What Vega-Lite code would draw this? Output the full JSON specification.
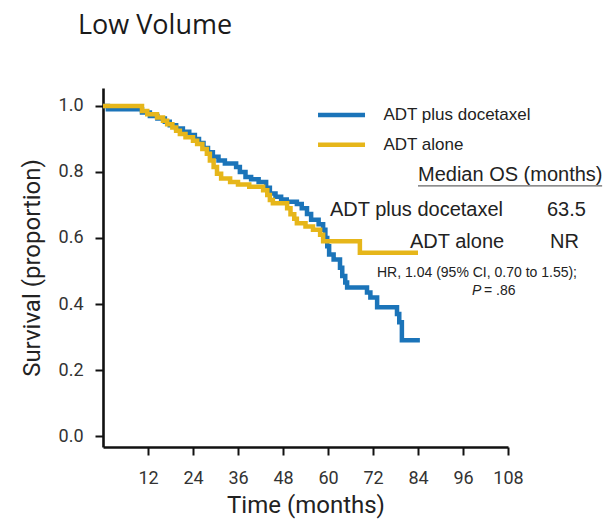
{
  "$schema": "https://vega.github.io/schema/vega-lite/v6.json",
  "width": 405,
  "height": 359,
  "autosize": "none",
  "padding": {"left": 103, "top": 88, "right": 104, "bottom": 79},
  "background": "white",
  "title": {
    "text": "Low Volume",
    "anchor": "start",
    "frame": "group",
    "dx": -25,
    "offset": 27,
    "baseline": "alphabetic",
    "font": "Open Sans",
    "fontSize": 27,
    "fontWeight": "normal",
    "color": "#1a1a1a"
  },
  "config": {
    "view": {"stroke": null},
    "axis": {
      "grid": false,
      "domainColor": "#111",
      "domainWidth": 2.6,
      "tickColor": "#111",
      "tickWidth": 2,
      "tickSize": 8,
      "labelFont": "Roboto",
      "labelFontSize": 18,
      "labelColor": "#333",
      "labelFlush": false,
      "labelOverlap": false,
      "titleFont": "Roboto",
      "titleFontSize": 24,
      "titleFontWeight": "normal",
      "titleColor": "#222"
    },
    "text": {"font": "Liberation Sans", "color": "#222"}
  },
  "datasets": {
    "km": [
      {"arm": "ADT plus docetaxel", "month": 0, "surv": 1.0},
      {"arm": "ADT plus docetaxel", "month": 1.3, "surv": 0.99},
      {"arm": "ADT plus docetaxel", "month": 10.4, "surv": 0.98},
      {"arm": "ADT plus docetaxel", "month": 12.5, "surv": 0.97},
      {"arm": "ADT plus docetaxel", "month": 14.5, "surv": 0.962},
      {"arm": "ADT plus docetaxel", "month": 16.5, "surv": 0.952},
      {"arm": "ADT plus docetaxel", "month": 17.8, "surv": 0.942},
      {"arm": "ADT plus docetaxel", "month": 19.5, "surv": 0.932},
      {"arm": "ADT plus docetaxel", "month": 21.3, "surv": 0.922},
      {"arm": "ADT plus docetaxel", "month": 23, "surv": 0.912},
      {"arm": "ADT plus docetaxel", "month": 24.5, "surv": 0.9},
      {"arm": "ADT plus docetaxel", "month": 25.6, "surv": 0.888},
      {"arm": "ADT plus docetaxel", "month": 26.8, "surv": 0.873},
      {"arm": "ADT plus docetaxel", "month": 28, "surv": 0.86},
      {"arm": "ADT plus docetaxel", "month": 29.3, "surv": 0.846},
      {"arm": "ADT plus docetaxel", "month": 30.8, "surv": 0.835},
      {"arm": "ADT plus docetaxel", "month": 32.5, "surv": 0.826},
      {"arm": "ADT plus docetaxel", "month": 35.5, "surv": 0.815},
      {"arm": "ADT plus docetaxel", "month": 36.5, "surv": 0.8},
      {"arm": "ADT plus docetaxel", "month": 38, "surv": 0.785},
      {"arm": "ADT plus docetaxel", "month": 39.5, "surv": 0.778},
      {"arm": "ADT plus docetaxel", "month": 41.5, "surv": 0.77},
      {"arm": "ADT plus docetaxel", "month": 43.5, "surv": 0.752},
      {"arm": "ADT plus docetaxel", "month": 44.5, "surv": 0.735},
      {"arm": "ADT plus docetaxel", "month": 46, "surv": 0.725},
      {"arm": "ADT plus docetaxel", "month": 47.5, "surv": 0.717},
      {"arm": "ADT plus docetaxel", "month": 49, "surv": 0.71},
      {"arm": "ADT plus docetaxel", "month": 51.7, "surv": 0.703},
      {"arm": "ADT plus docetaxel", "month": 53, "surv": 0.69},
      {"arm": "ADT plus docetaxel", "month": 54.4, "surv": 0.673},
      {"arm": "ADT plus docetaxel", "month": 55.5, "surv": 0.655},
      {"arm": "ADT plus docetaxel", "month": 57.5, "surv": 0.642},
      {"arm": "ADT plus docetaxel", "month": 58.7, "surv": 0.625},
      {"arm": "ADT plus docetaxel", "month": 59.3, "surv": 0.6},
      {"arm": "ADT plus docetaxel", "month": 59.8, "surv": 0.575},
      {"arm": "ADT plus docetaxel", "month": 60.3, "surv": 0.55},
      {"arm": "ADT plus docetaxel", "month": 61.5, "surv": 0.535},
      {"arm": "ADT plus docetaxel", "month": 63.2, "surv": 0.51},
      {"arm": "ADT plus docetaxel", "month": 63.8, "surv": 0.485},
      {"arm": "ADT plus docetaxel", "month": 64.6, "surv": 0.465},
      {"arm": "ADT plus docetaxel", "month": 65.1, "surv": 0.45},
      {"arm": "ADT plus docetaxel", "month": 70.4, "surv": 0.435},
      {"arm": "ADT plus docetaxel", "month": 71.3, "surv": 0.42},
      {"arm": "ADT plus docetaxel", "month": 73.1, "surv": 0.39},
      {"arm": "ADT plus docetaxel", "month": 78.4, "surv": 0.37},
      {"arm": "ADT plus docetaxel", "month": 79, "surv": 0.345},
      {"arm": "ADT plus docetaxel", "month": 79.7, "surv": 0.29},
      {"arm": "ADT plus docetaxel", "month": 84.5, "surv": 0.29},
      {"arm": "ADT alone", "month": 0, "surv": 1.0},
      {"arm": "ADT alone", "month": 10.4, "surv": 0.985},
      {"arm": "ADT alone", "month": 11.8, "surv": 0.975},
      {"arm": "ADT alone", "month": 14.4, "surv": 0.965},
      {"arm": "ADT alone", "month": 16, "surv": 0.955},
      {"arm": "ADT alone", "month": 17.1, "surv": 0.945},
      {"arm": "ADT alone", "month": 18.5, "surv": 0.935},
      {"arm": "ADT alone", "month": 19.5, "surv": 0.925},
      {"arm": "ADT alone", "month": 20.5, "surv": 0.915},
      {"arm": "ADT alone", "month": 22, "surv": 0.905},
      {"arm": "ADT alone", "month": 24, "surv": 0.895},
      {"arm": "ADT alone", "month": 25.1, "surv": 0.885},
      {"arm": "ADT alone", "month": 26.5, "surv": 0.87},
      {"arm": "ADT alone", "month": 27.7, "surv": 0.855},
      {"arm": "ADT alone", "month": 28.5, "surv": 0.835},
      {"arm": "ADT alone", "month": 29.5, "surv": 0.815},
      {"arm": "ADT alone", "month": 30.4, "surv": 0.795},
      {"arm": "ADT alone", "month": 31.5, "surv": 0.78},
      {"arm": "ADT alone", "month": 33.9, "surv": 0.77},
      {"arm": "ADT alone", "month": 36, "surv": 0.762},
      {"arm": "ADT alone", "month": 39, "surv": 0.755},
      {"arm": "ADT alone", "month": 42.7, "surv": 0.745},
      {"arm": "ADT alone", "month": 43.8, "surv": 0.73},
      {"arm": "ADT alone", "month": 44.5, "surv": 0.715},
      {"arm": "ADT alone", "month": 45.3, "surv": 0.705},
      {"arm": "ADT alone", "month": 49.1, "surv": 0.69},
      {"arm": "ADT alone", "month": 50, "surv": 0.672},
      {"arm": "ADT alone", "month": 51, "surv": 0.658},
      {"arm": "ADT alone", "month": 51.7, "surv": 0.645},
      {"arm": "ADT alone", "month": 54, "surv": 0.635},
      {"arm": "ADT alone", "month": 56, "surv": 0.625},
      {"arm": "ADT alone", "month": 57.9, "surv": 0.61},
      {"arm": "ADT alone", "month": 58.7, "surv": 0.59},
      {"arm": "ADT alone", "month": 68.5, "surv": 0.555},
      {"arm": "ADT alone", "month": 84, "surv": 0.555}
    ]
  },
  "layer": [
    {
      "data": {"name": "km"},
      "mark": {"type": "line", "interpolate": "step-after", "strokeWidth": 4.5, "strokeCap": "butt"},
      "encoding": {
        "x": {
          "field": "month",
          "type": "quantitative",
          "scale": {"domain": [0, 108], "nice": false, "zero": false},
          "axis": {
            "values": [12, 24, 36, 48, 60, 72, 84, 96, 108],
            "title": "Time (months)",
            "labelPadding": 14,
            "titlePadding": 6
          }
        },
        "y": {
          "field": "surv",
          "type": "quantitative",
          "scale": {"domain": [-0.0333, 1.0545], "nice": false, "zero": false},
          "axis": {
            "values": [0, 0.2, 0.4, 0.6, 0.8, 1.0],
            "format": ".1f",
            "title": "Survival (proportion)",
            "labelPadding": 12,
            "titlePadding": 14
          }
        },
        "color": {
          "field": "arm",
          "type": "nominal",
          "scale": {
            "domain": ["ADT plus docetaxel", "ADT alone"],
            "range": ["#1b74b9", "#e6b61a"]
          },
          "legend": {
            "title": null,
            "orient": "none",
            "legendX": 212.4,
            "legendY": 18.5,
            "padding": 0,
            "symbolType": "M-1,0H7",
            "symbolSize": 138,
            "symbolStrokeWidth": 4.5,
            "labelOffset": 51,
            "labelFont": "Liberation Sans",
            "labelFontSize": 17,
            "labelColor": "#222",
            "rowPadding": 10.7
          }
        },
        "order": {"field": "month", "type": "quantitative"}
      }
    },
    {
      "data": {"values": [{"label": "Median OS (months)"}]},
      "layer": [
        {
          "mark": {"type": "text", "align": "left", "baseline": "middle", "fontSize": 20},
          "encoding": {
            "x": {"datum": 84.0, "type": "quantitative"},
            "y": {"datum": 0.791, "type": "quantitative"},
            "text": {"field": "label"}
          }
        },
        {
          "mark": {"type": "rule", "color": "#666", "strokeWidth": 1.2},
          "encoding": {
            "x": {"datum": 84.0, "type": "quantitative"},
            "x2": {"datum": 133.1},
            "y": {"datum": 0.758, "type": "quantitative"}
          }
        }
      ]
    },
    {
      "data": {"values": [{"label": "ADT plus docetaxel"}]},
      "mark": {"type": "text", "align": "left", "baseline": "middle", "fontSize": 20},
      "encoding": {
        "x": {"datum": 60.53, "type": "quantitative"},
        "y": {"datum": 0.685, "type": "quantitative"},
        "text": {"field": "label"}
      }
    },
    {
      "data": {"values": [{"label": "63.5"}]},
      "mark": {"type": "text", "align": "left", "baseline": "middle", "fontSize": 20},
      "encoding": {
        "x": {"datum": 118.4, "type": "quantitative"},
        "y": {"datum": 0.685, "type": "quantitative"},
        "text": {"field": "label"}
      }
    },
    {
      "data": {"values": [{"label": "ADT alone"}]},
      "mark": {"type": "text", "align": "left", "baseline": "middle", "fontSize": 20},
      "encoding": {
        "x": {"datum": 81.87, "type": "quantitative"},
        "y": {"datum": 0.588, "type": "quantitative"},
        "text": {"field": "label"}
      }
    },
    {
      "data": {"values": [{"label": "NR"}]},
      "mark": {"type": "text", "align": "left", "baseline": "middle", "fontSize": 20},
      "encoding": {
        "x": {"datum": 119.2, "type": "quantitative"},
        "y": {"datum": 0.588, "type": "quantitative"},
        "text": {"field": "label"}
      }
    },
    {
      "data": {"values": [{"label": "HR, 1.04 (95% CI, 0.70 to 1.55);"}]},
      "mark": {"type": "text", "align": "left", "baseline": "middle", "fontSize": 14},
      "encoding": {
        "x": {"datum": 73.07, "type": "quantitative"},
        "y": {"datum": 0.494, "type": "quantitative"},
        "text": {"field": "label"}
      }
    },
    {
      "data": {"values": [{"label": "P"}]},
      "mark": {"type": "text", "align": "left", "baseline": "middle", "fontSize": 14, "fontStyle": "italic"},
      "encoding": {
        "x": {"datum": 98.4, "type": "quantitative"},
        "y": {"datum": 0.439, "type": "quantitative"},
        "text": {"field": "label"}
      }
    },
    {
      "data": {"values": [{"label": "= .86"}]},
      "mark": {"type": "text", "align": "left", "baseline": "middle", "fontSize": 14},
      "encoding": {
        "x": {"datum": 101.6, "type": "quantitative"},
        "y": {"datum": 0.439, "type": "quantitative"},
        "text": {"field": "label"}
      }
    }
  ]
}
